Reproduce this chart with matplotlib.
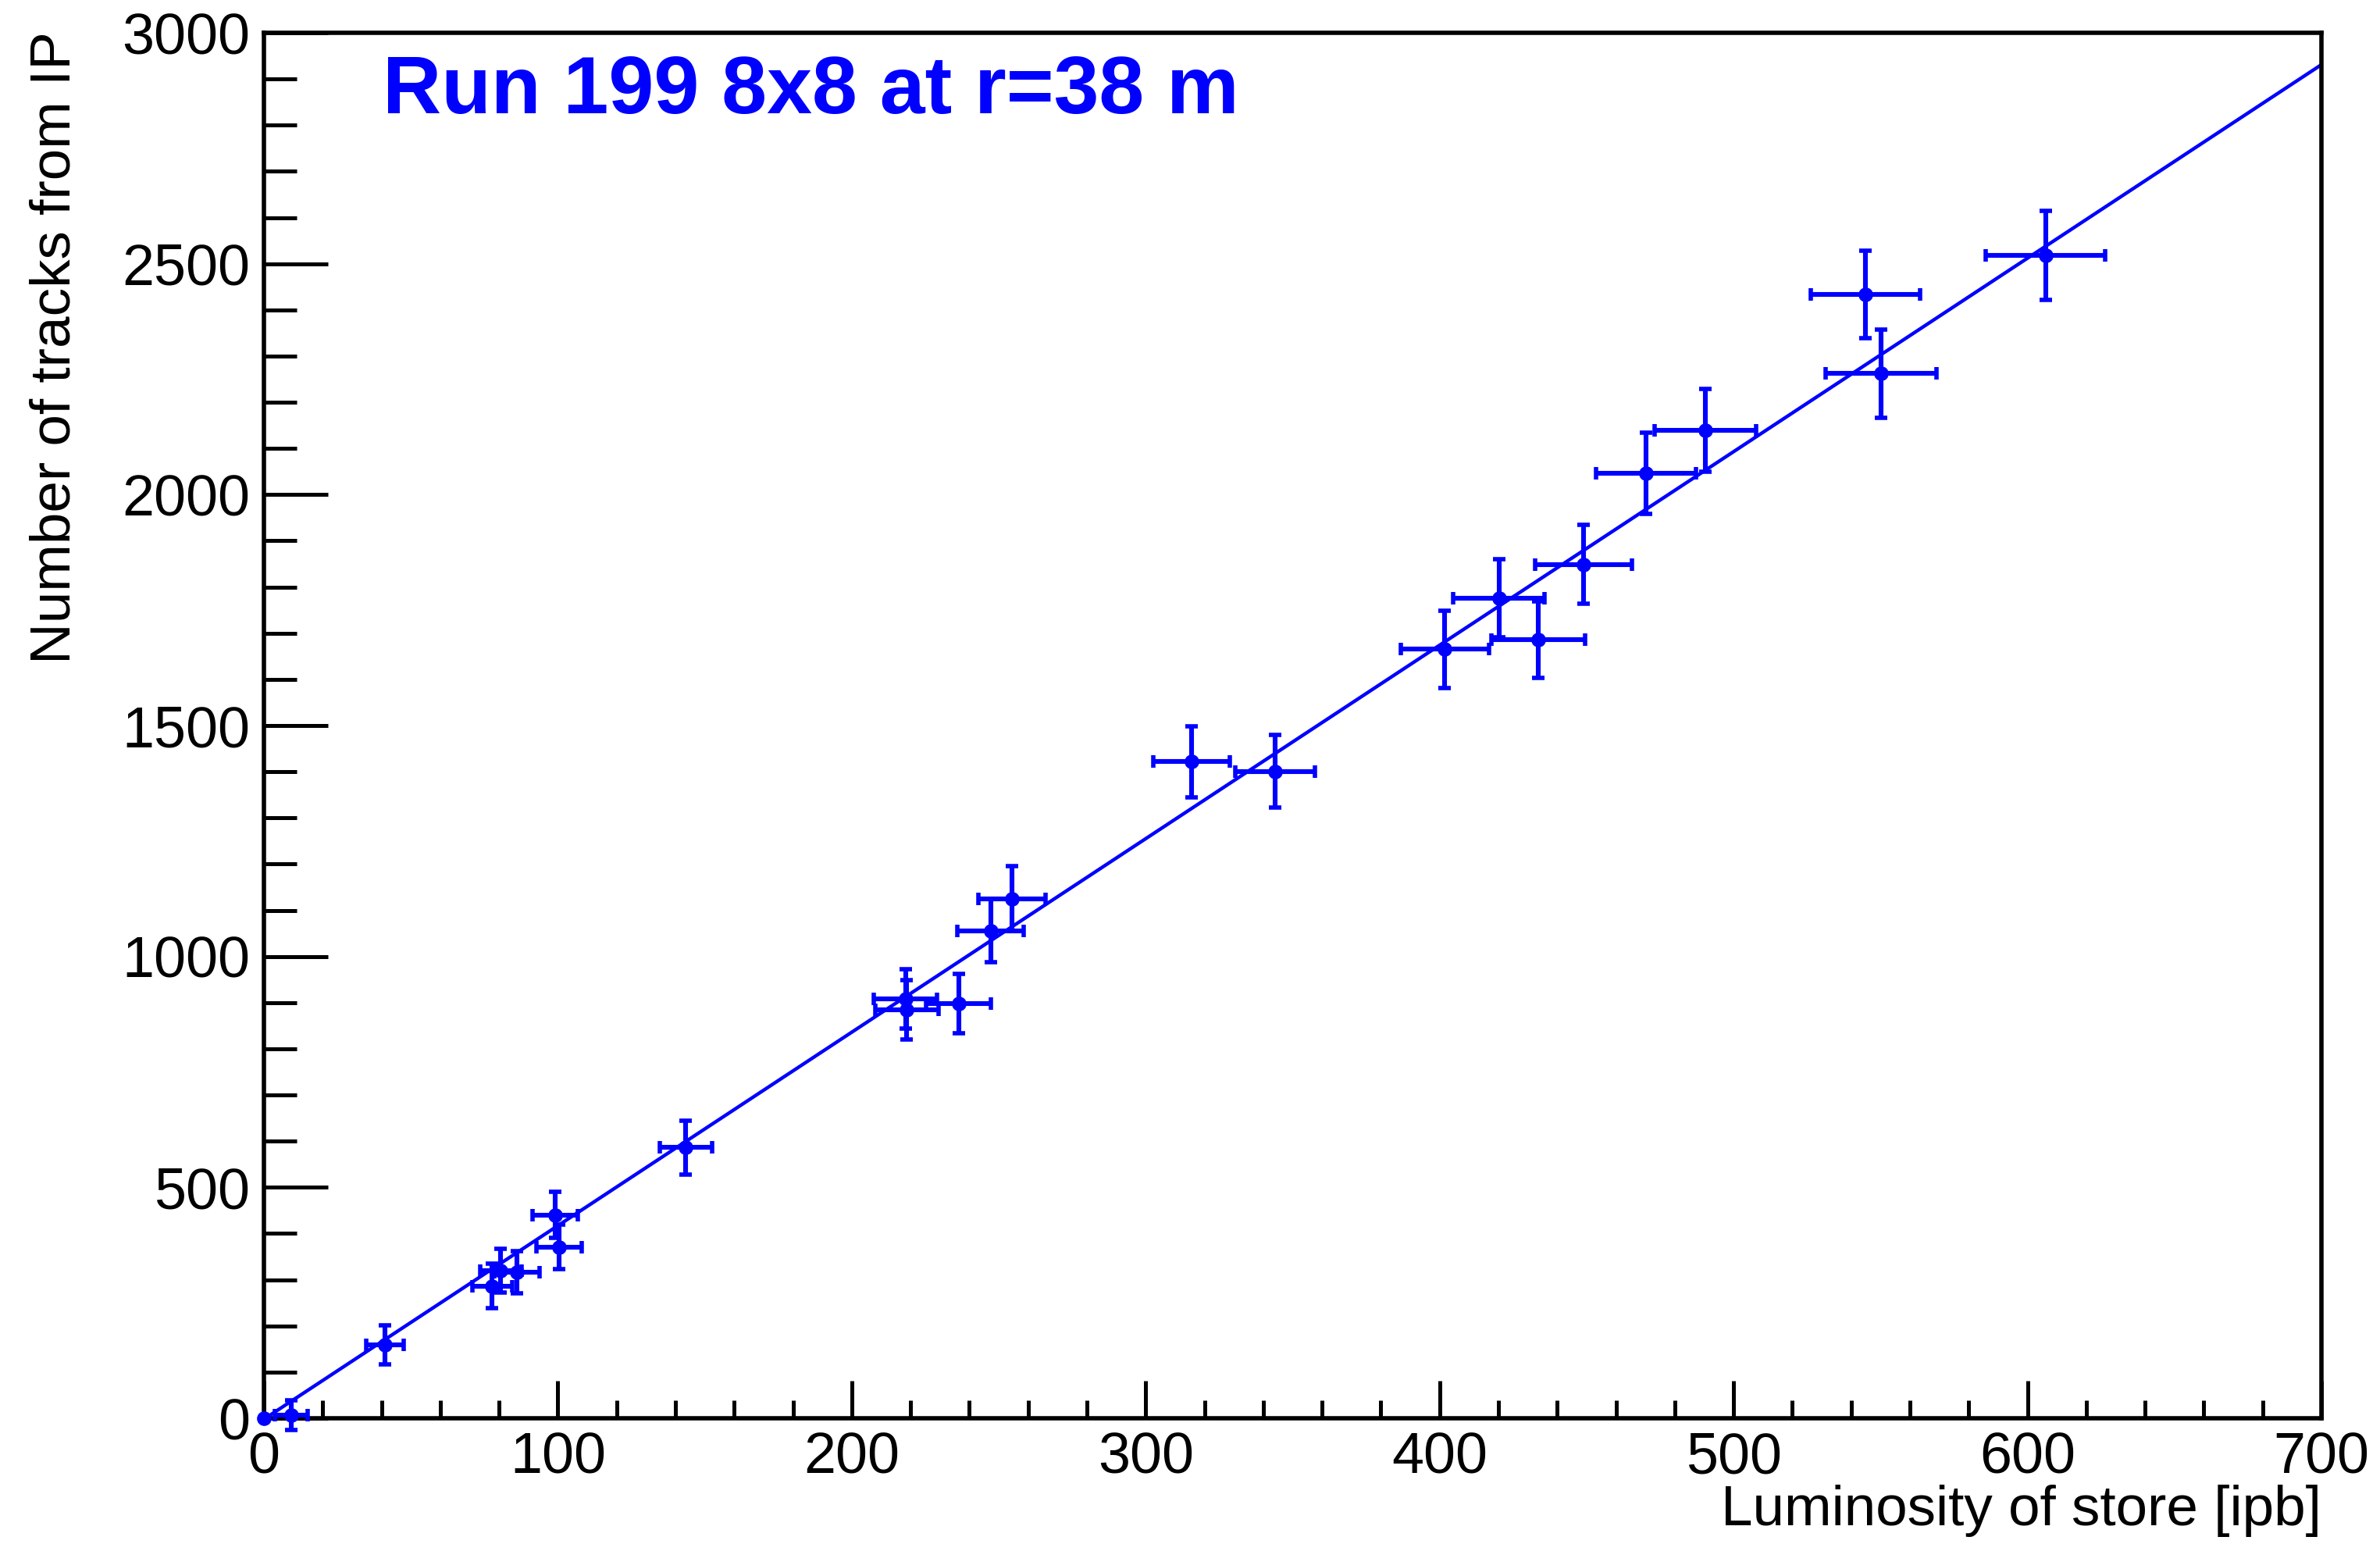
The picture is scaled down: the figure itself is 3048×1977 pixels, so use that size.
import numpy as np
import matplotlib
matplotlib.use("Agg")
import matplotlib.pyplot as plt
from matplotlib.ticker import MultipleLocator

plt.rcParams['font.family'] = ['Liberation Sans', 'DejaVu Sans']

# luminosity of store [ipb] and number of tracks
lumi = [0, 9.3, 41.2, 77.6, 80.6, 86.0, 99.0, 100.4, 143.5, 218.3, 218.7, 236.3, 247.2,
        254.5, 315.5, 344.1, 401.7, 420.2, 433.6, 449.0, 470.2, 490.3, 544.8, 550.1, 606.1]
tracks = [0, 7, 159, 286, 320, 316, 440, 371, 586, 908, 884, 898, 1056,
          1125, 1422, 1401, 1665, 1776, 1686, 1849, 2046, 2139, 2434, 2262, 2518]
lumi_err = [0, 5.5, 6.4, 6.8, 7.0, 7.7, 7.7, 7.8, 8.9, 10.8, 10.8, 11.0, 11.4,
            11.5, 13.0, 13.6, 15.0, 15.6, 15.9, 16.4, 16.9, 17.3, 18.6, 18.9, 20.3]
tracks_err = [0, 32, 42, 48, 47, 46, 50, 48, 58, 64, 64, 65, 69,
              70, 77, 78, 83, 85, 83, 86, 88, 90, 95, 96, 97]

# straight line fit  y = p0 + p1*x
p0, p1 = -2.0, 4.19

W, H = 3048, 1977
fig = plt.figure(figsize=(W / 100, H / 100), dpi=100)
ax = fig.add_axes([338 / W, 1 - 1816 / H, 2635 / W, 1774 / H])

xx = np.array([0.0, 700.0])
ax.plot(xx, p0 + p1 * xx, color='#0000ff', lw=3.2, zorder=2)

# error bars with caps, then the filled dots on top
ax.errorbar(lumi, tracks, xerr=lumi_err, yerr=tracks_err, fmt='none', ecolor='#0000ff',
            elinewidth=4.4, capsize=5.7, capthick=4.0, zorder=3, clip_on=False)
ax.plot(lumi, tracks, 'o', color='#0000ff', markersize=13.5, markeredgewidth=0,
        zorder=4, clip_on=False)

ax.set_xlim(0, 700)
ax.set_ylim(0, 3000)
ax.xaxis.set_major_locator(MultipleLocator(100))
ax.xaxis.set_minor_locator(MultipleLocator(20))
ax.yaxis.set_major_locator(MultipleLocator(500))
ax.yaxis.set_minor_locator(MultipleLocator(100))

for s in ax.spines.values():
    s.set_linewidth(4.0)

ax.tick_params(axis='x', which='major', direction='in', length=34.5, width=3.6,
               labelsize=53, pad=12)
ax.tick_params(axis='x', which='minor', direction='in', length=16.5, width=3.6)
ax.tick_params(axis='y', which='major', direction='in', length=59, width=3.6,
               labelsize=53, pad=13)
ax.tick_params(axis='y', which='minor', direction='in', length=30, width=3.6)

fig.text(2973 / W, 1 - 1953 / H, 'Luminosity of store [ipb]', ha='right',
         va='baseline', fontsize=52.5)
fig.text(38 / W, 1 - 40 / H, 'Number of tracks from IP', rotation=90,
         ha='left', va='top', fontsize=52.5)
fig.text(490 / W, 1 - 145 / H, 'Run 199 8x8 at r=38 m', ha='left', va='baseline',
         fontsize=75, fontweight='bold', color='#0000ff')

fig.savefig('out.png', dpi=100)
